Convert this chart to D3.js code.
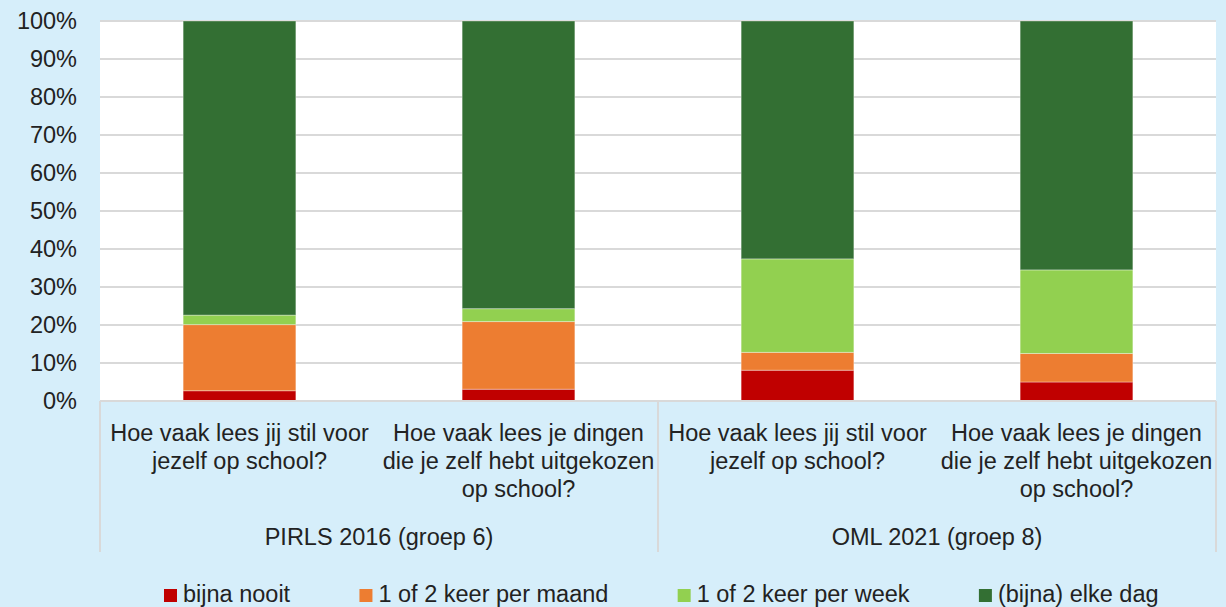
<!DOCTYPE html>
<html>
<head>
<meta charset="utf-8">
<script src="https://cdn.jsdelivr.net/npm/d3@7"></script>
<style>
  html, body { margin: 0; padding: 0; background: #d6eefa; }
  svg { display: block; font-family: "Liberation Sans", Arial, sans-serif; }
</style>
</head>
<body>
<svg id="chart" width="1226" height="607"></svg>
<script>
// ---- data ----
const categoryLines = [
  ["Hoe vaak lees jij stil voor", "jezelf op school?"],
  ["Hoe vaak lees je dingen", "die je zelf hebt uitgekozen", "op school?"],
  ["Hoe vaak lees jij stil voor", "jezelf op school?"],
  ["Hoe vaak lees je dingen", "die je zelf hebt uitgekozen", "op school?"]
];
const groups = ["PIRLS 2016 (groep 6)", "OML 2021 (groep 8)"];
const groupOfCategory = [0, 0, 1, 1];
const seriesNames = ["bijna nooit", "1 of 2 keer per maand", "1 of 2 keer per week", "(bijna) elke dag"];
const bijnaNooit   = [2.7, 3.1, 8.1, 5.0];
const maand        = [17.4, 17.8, 4.7, 7.5];
const week         = [2.5, 3.4, 24.6, 22.0];
const elkeDag      = [77.4, 75.7, 62.6, 65.5];
const seriesColors = ["#c00000", "#ed7d31", "#92d050", "#336f33"];
const yTicks = [0, 10, 20, 30, 40, 50, 60, 70, 80, 90, 100];

// ---- layout ----
const svg = d3.select("#chart");
const plotLeft = 100, plotRight = 1216, plotTop = 21, plotBottom = 401;
const axisBottom = 552;
const textColor = "#222222";
const gridColor = "#d9d9d9";
const fontSize = 23.5;

const x = d3.scaleBand()
  .domain(d3.range(categoryLines.length))
  .range([plotLeft, plotRight])
  .paddingInner(0.596)
  .paddingOuter(0.298);
const y = d3.scaleLinear().domain([0, 100]).range([plotBottom, plotTop]);

// plot background
svg.append("rect").attr("x", plotLeft).attr("y", plotTop)
  .attr("width", plotRight - plotLeft).attr("height", plotBottom - plotTop)
  .attr("fill", "#ffffff");

// gridlines
svg.append("g").selectAll("line").data(yTicks).join("line")
  .attr("x1", plotLeft).attr("x2", plotRight)
  .attr("y1", d => y(d)).attr("y2", d => y(d))
  .attr("stroke", gridColor).attr("stroke-width", 2);

// y labels
const yAxis = d3.axisLeft(y).tickValues(yTicks).tickFormat(d => d + "%").tickSize(0).tickPadding(23);
const ya = svg.append("g").attr("transform", `translate(${plotLeft},0)`).call(yAxis);
ya.select(".domain").remove();
ya.selectAll("text").attr("font-size", fontSize).attr("fill", textColor)
  .attr("font-family", "Liberation Sans, Arial, sans-serif");

// stacked bars
const seriesArrays = [bijnaNooit, maand, week, elkeDag];
const rows = d3.range(categoryLines.length).map(i => {
  const r = { i };
  seriesArrays.forEach((arr, k) => r["s" + k] = arr[i]);
  return r;
});
const stack = d3.stack().keys(seriesArrays.map((_, k) => "s" + k));
const stacked = stack(rows);
svg.append("g").selectAll("g").data(stacked).join("g")
  .attr("fill", (d, k) => seriesColors[k])
  .selectAll("rect").data(d => d).join("rect")
  .attr("x", d => x(d.data.i))
  .attr("width", x.bandwidth())
  .attr("y", d => y(Math.min(100, d[1])))
  .attr("height", d => y(d[0]) - y(Math.min(100, d[1])))
  .attr("stroke", "#ffffff").attr("stroke-opacity", 0.35).attr("stroke-width", 1);

// bottom axis line
svg.append("line").attr("x1", plotLeft).attr("x2", plotRight)
  .attr("y1", plotBottom).attr("y2", plotBottom)
  .attr("stroke", gridColor).attr("stroke-width", 2);

// group separators
const step = x.step();
const sepX = [plotLeft, plotLeft + step * 2, plotRight];
svg.append("g").selectAll("line").data(sepX).join("line")
  .attr("x1", d => d).attr("x2", d => d)
  .attr("y1", plotBottom).attr("y2", axisBottom)
  .attr("stroke", gridColor).attr("stroke-width", 2);

// category labels
const catG = svg.append("g");
categoryLines.forEach((lines, i) => {
  const cx = x(i) + x.bandwidth() / 2;
  catG.append("text")
    .attr("text-anchor", "middle")
    .attr("font-size", fontSize).attr("fill", textColor)
    .selectAll("tspan").data(lines).join("tspan")
    .attr("x", cx).attr("y", (d, j) => 441 + j * 28)
    .text(d => d);
});

// group labels
groups.forEach((g, gi) => {
  const idx = d3.range(categoryLines.length).filter(i => groupOfCategory[i] === gi);
  const gx0 = plotLeft + step * idx[0];
  const gx1 = plotLeft + step * (idx[idx.length - 1] + 1);
  svg.append("text")
    .attr("x", (gx0 + gx1) / 2).attr("y", 545)
    .attr("text-anchor", "middle")
    .attr("font-size", fontSize).attr("fill", textColor)
    .text(g);
});

// legend
const legend = svg.append("g");
let lx = 164;
const gap = 69.3;
seriesNames.forEach((name, k) => {
  legend.append("rect").attr("x", lx).attr("y", 589)
    .attr("width", 13).attr("height", 13).attr("fill", seriesColors[k]);
  const t = legend.append("text").attr("x", lx + 19).attr("y", 602)
    .attr("font-size", fontSize).attr("fill", textColor).text(name);
  lx = lx + 19 + t.node().getComputedTextLength() + gap;
});
</script>
</body>
</html>
